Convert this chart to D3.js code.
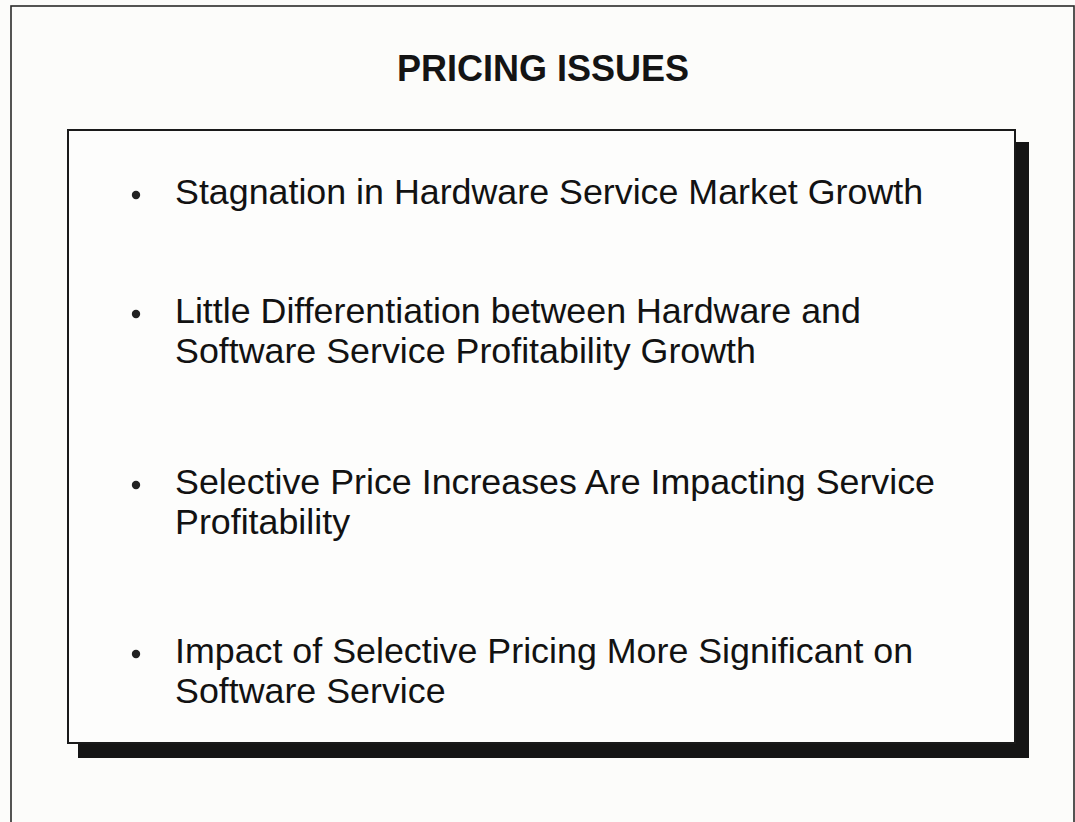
<!DOCTYPE html>
<html>
<head>
<meta charset="utf-8">
<script src="https://cdn.jsdelivr.net/npm/d3@7"></script>
<style>
  body { margin: 0; background: #fcfcfa; }
  svg { display: block; }
</style>
</head>
<body>
<div id="slide"></div>
<script>
// slide content
const title = 'PRICING ISSUES';
const bulletItems = [
  ['Stagnation in Hardware Service Market Growth'],
  ['Little Differentiation between Hardware and', 'Software Service Profitability Growth'],
  ['Selective Price Increases Are Impacting Service', 'Profitability'],
  ['Impact of Selective Pricing More Significant on', 'Software Service']
];

const width = 1075;
const height = 822;
const frame = {left: 11, top: 6, right: 1074};
const box = {left: 68, top: 130, right: 1015, bottom: 743};
const shadowOffset = {x: 14, y: 15};
const gapRows = [1.98, 2.28, 2.23]; // blank space after each bullet item, in text rows

const svg = d3.select('#slide').append('svg')
  .attr('width', width)
  .attr('height', height);

// outer frame (runs off the bottom of the page)
svg.append('rect')
  .attr('x', frame.left)
  .attr('y', frame.top)
  .attr('width', frame.right - frame.left)
  .attr('height', height + 20)
  .attr('fill', 'none')
  .attr('stroke', '#2a2a2a')
  .attr('stroke-width', 1.6);

svg.append('text')
  .attr('x', 543)
  .attr('y', 81)
  .attr('text-anchor', 'middle')
  .attr('font-family', '"Liberation Sans", Arial, sans-serif')
  .attr('font-weight', 'bold')
  .attr('font-size', 36)
  .attr('fill', '#141414')
  .text(title);

// box with drop shadow
svg.append('rect')
  .attr('x', box.left + shadowOffset.x - 4)
  .attr('y', box.top + shadowOffset.y - 3)
  .attr('width', box.right - box.left + 4)
  .attr('height', box.bottom - box.top + 3)
  .attr('fill', '#151515');
svg.append('rect')
  .attr('x', box.left)
  .attr('y', box.top)
  .attr('width', box.right - box.left)
  .attr('height', box.bottom - box.top)
  .attr('fill', '#fdfdfc')
  .attr('stroke', '#1a1a1a')
  .attr('stroke-width', 2);

// row positions: each line is one row, items separated by gapRows
const rows = [];
let r = 0;
bulletItems.forEach((lines, i) => {
  lines.forEach((line, j) => rows.push({item: i, line: j, text: line, row: r + j}));
  r += lines.length + (gapRows[i] || 0);
});
const lastRow = d3.max(rows, d => d.row);
const y = d3.scaleLinear().domain([0, lastRow]).range([204, 703]);

svg.append('g').selectAll('text')
  .data(rows)
  .join('text')
  .attr('x', 175)
  .attr('y', d => y(d.row))
  .attr('font-family', '"Liberation Sans", Arial, sans-serif')
  .attr('font-size', 35.8)
  .attr('fill', '#121212')
  .text(d => d.text);

svg.append('g').selectAll('circle')
  .data(rows.filter(d => d.line === 0))
  .join('circle')
  .attr('cx', 136)
  .attr('cy', d => y(d.row) - 9)
  .attr('r', 4.2)
  .attr('fill', '#222');
</script>
</body>
</html>
